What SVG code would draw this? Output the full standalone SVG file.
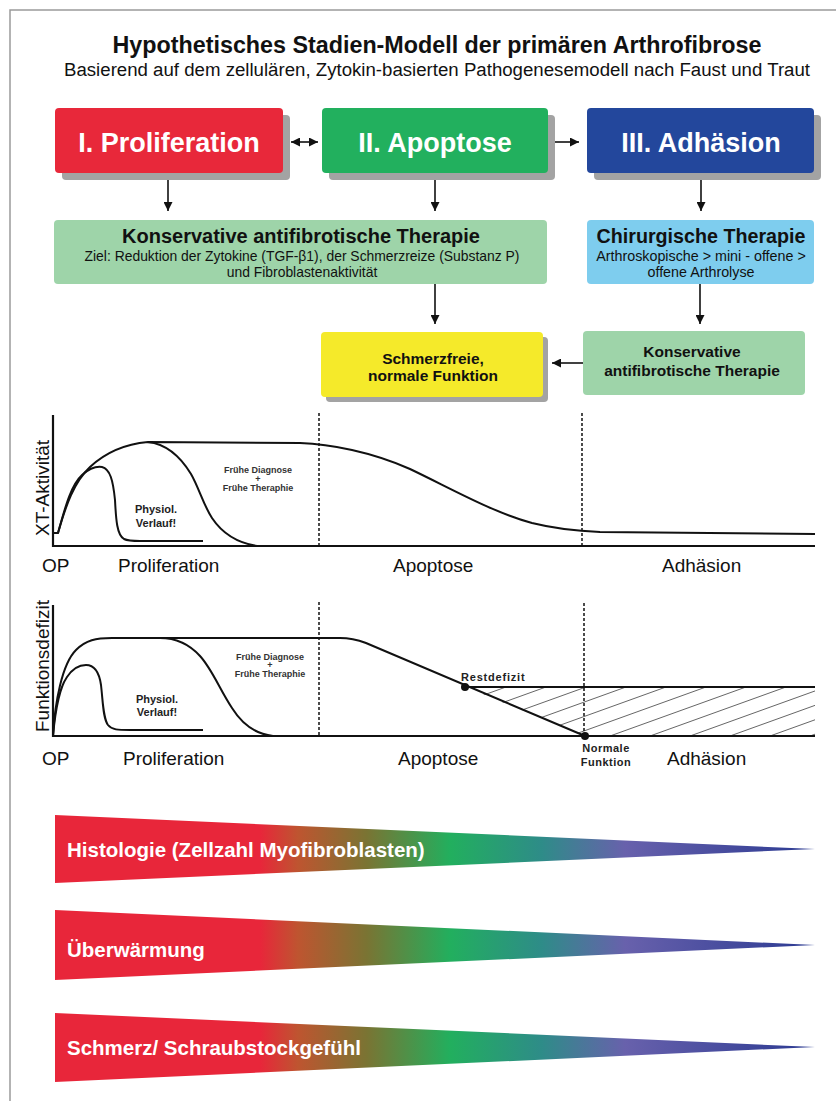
<svg xmlns="http://www.w3.org/2000/svg" width="836" height="1101" viewBox="0 0 836 1101">
<style>
.t{font-family:"Liberation Sans",Arial,sans-serif;}
.b{font-family:"Liberation Sans",Arial,sans-serif;font-weight:bold;}
.big{font-size:27px;fill:#fff;font-weight:bold;font-family:"Liberation Sans",Arial,sans-serif;}
.lab{font-size:19px;fill:#111;font-family:"Liberation Sans",Arial,sans-serif;}
.sm{font-size:9px;font-weight:bold;fill:#333;font-family:"Liberation Sans",Arial,sans-serif;}
.ph{font-size:11px;font-weight:bold;fill:#222;font-family:"Liberation Sans",Arial,sans-serif;}
.tri{font-size:20.5px;font-weight:bold;fill:#fff;font-family:"Liberation Sans",Arial,sans-serif;}
.ln{fill:none;stroke:#111;stroke-width:1.6;}
.cv{fill:none;stroke:#111;stroke-width:2;}
.ax{fill:none;stroke:#111;stroke-width:2.2;}
.dash{fill:none;stroke:#111;stroke-width:1.5;stroke-dasharray:3,2;}
.sh{fill:#a3a3a3;}
</style>
<defs>
<marker id="ah" viewBox="0 0 10 10" refX="10" refY="5" markerWidth="9" markerHeight="9" markerUnits="userSpaceOnUse" orient="auto-start-reverse"><path d="M0,0 L10,5 L0,10 z" fill="#111"/></marker>
<linearGradient id="grad" gradientUnits="userSpaceOnUse" x1="55" y1="0" x2="815" y2="0">
<stop offset="0" stop-color="#E8263A"/>
<stop offset="0.27" stop-color="#E8263A"/>
<stop offset="0.32" stop-color="#BE5530"/>
<stop offset="0.41" stop-color="#7A7433"/>
<stop offset="0.52" stop-color="#22AF5E"/>
<stop offset="0.64" stop-color="#2E8C88"/>
<stop offset="0.75" stop-color="#6861AC"/>
<stop offset="1" stop-color="#2B3A92"/>
</linearGradient>
<clipPath id="hc"><polygon points="465,687 815,687 815,736 585,736"/></clipPath>
</defs>
<rect width="836" height="1101" fill="#fff"/>
<path d="M10,1101 L10,10 L836,10" fill="none" stroke="#9a9a9a" stroke-width="1.5"/>

<g id="title">
<text class="b" x="437" y="53" font-size="23.3" text-anchor="middle" fill="#111">Hypothetisches Stadien-Modell der primären Arthrofibrose</text>
<text class="t" x="437" y="76" font-size="18" text-anchor="middle" fill="#111" textLength="746" lengthAdjust="spacingAndGlyphs">Basierend auf dem zellulären, Zytokin-basierten Pathogenesemodell nach Faust und Traut</text>
</g>

<g id="proliferation">
<rect class="sh" x="62" y="115" width="228" height="65" rx="4"/>
<rect x="55" y="108" width="228" height="65" rx="4" fill="#E8283A"/>
<text class="big" x="169" y="152" text-anchor="middle">I. Proliferation</text>
</g>
<g id="apoptose">
<rect class="sh" x="329" y="115" width="226" height="65" rx="4"/>
<rect x="322" y="108" width="226" height="65" rx="4" fill="#22B05E"/>
<text class="big" x="435" y="152" text-anchor="middle">II. Apoptose</text>
</g>
<g id="adhaesion">
<rect class="sh" x="594" y="115" width="227" height="65" rx="4"/>
<rect x="587" y="108" width="227" height="65" rx="4" fill="#23479C"/>
<text class="big" x="701" y="152" text-anchor="middle">III. Adhäsion</text>
</g>
<g id="konservativ1">
<rect x="54" y="220" width="493" height="64" rx="4" fill="#9ED4A9"/>
<text class="b" x="301" y="243" font-size="20" text-anchor="middle" fill="#111">Konservative antifibrotische Therapie</text>
<text class="t" x="302" y="261" font-size="13.9" text-anchor="middle" fill="#111">Ziel: Reduktion der Zytokine (TGF-β1), der Schmerzreize (Substanz P)</text>
<text class="t" x="302" y="277" font-size="13.9" text-anchor="middle" fill="#111">und Fibroblastenaktivität</text>
</g>
<g id="chirurgisch">
<rect x="587" y="220" width="227" height="64" rx="4" fill="#7ECDEE"/>
<text class="b" x="701" y="243" font-size="19.7" text-anchor="middle" fill="#111">Chirurgische Therapie</text>
<text class="t" x="701" y="261" font-size="14.3" text-anchor="middle" fill="#111">Arthroskopische &gt; mini - offene &gt;</text>
<text class="t" x="701" y="277" font-size="14.3" text-anchor="middle" fill="#111">offene Arthrolyse</text>
</g>
<g id="schmerzfrei">
<rect class="sh" x="326" y="337" width="222" height="65" rx="4"/>
<rect x="321" y="332" width="222" height="65" rx="4" fill="#F5EA2A"/>
<text class="b" x="433" y="364" font-size="15.5" text-anchor="middle" fill="#111">Schmerzfreie,</text>
<text class="b" x="433" y="381" font-size="15.5" text-anchor="middle" fill="#111">normale Funktion</text>
</g>
<g id="konservativ2">
<rect x="583" y="331" width="222" height="64" rx="4" fill="#9ED4A9"/>
<text class="b" x="692" y="357" font-size="15.5" text-anchor="middle" fill="#111">Konservative</text>
<text class="b" x="692" y="376" font-size="15.5" text-anchor="middle" fill="#111">antifibrotische Therapie</text>
</g>

<g id="connectors">
<line class="ln" x1="291" y1="142" x2="318" y2="142" marker-start="url(#ah)" marker-end="url(#ah)"/>
<line class="ln" x1="555" y1="142" x2="579" y2="142" marker-end="url(#ah)"/>
<line class="ln" x1="168" y1="180" x2="168" y2="211" marker-end="url(#ah)"/>
<line class="ln" x1="435" y1="180" x2="435" y2="211" marker-end="url(#ah)"/>
<line class="ln" x1="701" y1="180" x2="701" y2="211" marker-end="url(#ah)"/>
<line class="ln" x1="435" y1="284" x2="435" y2="324" marker-end="url(#ah)"/>
<line class="ln" x1="700" y1="284" x2="700" y2="324" marker-end="url(#ah)"/>
<line class="ln" x1="583" y1="363" x2="552" y2="363" marker-end="url(#ah)"/>
</g>

<g id="chart1">
<line class="ax" x1="53" y1="415" x2="53" y2="547"/>
<line class="ax" x1="52" y1="546" x2="815" y2="546"/>
<line class="dash" x1="319" y1="413" x2="319" y2="546"/>
<line class="dash" x1="582" y1="413" x2="582" y2="546"/>
<path class="cv" d="M53,533 L58,533 C64,512 70,486 82,475 C90,468 96,466 102,467 C110,469 113,480 115,500 C116,520 117,535 124,539 C128,541 134,541 140,541 L203,541"/>
<path class="cv" d="M58,533 C66,505 74,482 90,467 C106,452 126,444 148,442 L300,443 C330,444 372,452 410,469 C452,489 492,512 532,523 C556,529 576,531 600,532 L815,534"/>
<path class="cv" d="M148,442 C166,444 180,456 191,474 C199,488 203,504 212,518 C222,533 238,543 257,546"/>
<text class="ph" x="156" y="513" text-anchor="middle">Physiol.</text>
<text class="ph" x="156" y="527" text-anchor="middle">Verlauf!</text>
<text class="sm" x="258" y="473" text-anchor="middle">Frühe Diagnose</text>
<text class="sm" x="258" y="482" text-anchor="middle">+</text>
<text class="sm" x="258" y="491" text-anchor="middle">Frühe Theraphie</text>
<text class="lab" x="49" y="488" text-anchor="middle" transform="rotate(-90 49 488)">XT-Aktivität</text>
<text class="lab" x="42" y="572">OP</text>
<text class="lab" x="118" y="572">Proliferation</text>
<text class="lab" x="393" y="572">Apoptose</text>
<text class="lab" x="662" y="572">Adhäsion</text>
</g>

<g id="chart2">
<g clip-path="url(#hc)" stroke="#555" stroke-width="0.9">
<line x1="330" y1="736" x2="466" y2="687"/>
<line x1="370" y1="736" x2="506" y2="687"/>
<line x1="410" y1="736" x2="546" y2="687"/>
<line x1="450" y1="736" x2="586" y2="687"/>
<line x1="490" y1="736" x2="626" y2="687"/>
<line x1="530" y1="736" x2="666" y2="687"/>
<line x1="570" y1="736" x2="706" y2="687"/>
<line x1="610" y1="736" x2="746" y2="687"/>
<line x1="650" y1="736" x2="786" y2="687"/>
<line x1="690" y1="736" x2="826" y2="687"/>
<line x1="730" y1="736" x2="866" y2="687"/>
<line x1="770" y1="736" x2="906" y2="687"/>
<line x1="810" y1="736" x2="946" y2="687"/>
</g>
<line class="ax" x1="53" y1="605" x2="53" y2="737"/>
<line class="ax" x1="52" y1="736" x2="815" y2="736"/>
<line class="dash" x1="319" y1="602" x2="319" y2="736"/>
<line class="dash" x1="584" y1="603" x2="584" y2="736"/>
<line class="cv" x1="465" y1="687" x2="815" y2="687"/>
<path class="cv" d="M53,736 C55,702 62,664 76,650 C86,640 96,638 112,638 L340,638 C352,638 358,640 366,643 L585,736"/>
<path class="cv" d="M53,736 C55,714 58,690 67,677 C73,668 79,665 86,665 C94,665 99,671 101,685 C103,702 103,718 108,725 C112,730 118,730 130,730 L203,730"/>
<path class="cv" d="M160,638 C178,638 190,645 200,656 C212,669 220,690 232,708 C242,724 255,734 273,736"/>
<circle cx="465" cy="687" r="4" fill="#111"/>
<circle cx="585" cy="736" r="4" fill="#111"/>
<text class="ph" x="157" y="703" text-anchor="middle">Physiol.</text>
<text class="ph" x="157" y="716" text-anchor="middle">Verlauf!</text>
<text class="sm" x="270" y="660" text-anchor="middle">Frühe Diagnose</text>
<text class="sm" x="270" y="668" text-anchor="middle">+</text>
<text class="sm" x="270" y="677" text-anchor="middle">Frühe Theraphie</text>
<text class="ph" x="461" y="681" letter-spacing="0.8">Restdefizit</text>
<text class="ph" x="606" y="752" text-anchor="middle" letter-spacing="0.5">Normale</text>
<text class="ph" x="606" y="766" text-anchor="middle" letter-spacing="0.5">Funktion</text>
<text class="lab" x="49" y="666" text-anchor="middle" transform="rotate(-90 49 666)">Funktionsdefizit</text>
<text class="lab" x="42" y="765">OP</text>
<text class="lab" x="123" y="765">Proliferation</text>
<text class="lab" x="398" y="765">Apoptose</text>
<text class="lab" x="667" y="765">Adhäsion</text>
</g>

<g id="histologie">
<polygon points="55,815 815,849 55,883" fill="url(#grad)"/>
<text class="tri" x="67" y="857">Histologie (Zellzahl Myofibroblasten)</text>
</g>
<g id="ueberwaermung">
<polygon points="55,910 815,945 55,980" fill="url(#grad)"/>
<text class="tri" x="67" y="957">Überwärmung</text>
</g>
<g id="schmerz">
<polygon points="55,1013 815,1047 55,1082" fill="url(#grad)"/>
<text class="tri" x="67" y="1055">Schmerz/ Schraubstockgefühl</text>
</g>
</svg>
